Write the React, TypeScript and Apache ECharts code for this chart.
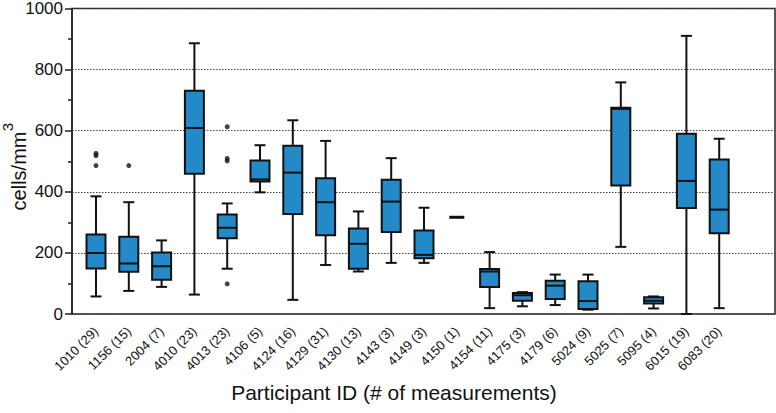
import React, { useEffect, useRef } from "react";
import * as echarts from "echarts";

const categories = [
  "1010 (29)", "1156 (15)", "2004 (7)", "4010 (23)", "4013 (23)",
  "4106 (5)", "4124 (16)", "4129 (31)", "4130 (13)", "4143 (3)",
  "4149 (3)", "4150 (1)", "4154 (11)", "4175 (3)", "4179 (6)",
  "5024 (9)", "5025 (7)", "5095 (4)", "6015 (19)", "6083 (20)",
];
const whiskerLow = [57, 75, 88, 63, 147, 395, 46, 159, 138, 166, 166, 314, 19, 25, 29, 14, 218, 18, 0, 19];
const quartile1 = [148, 137, 111, 455, 246, 430, 325, 256, 147, 266, 181, 314, 88, 43, 49, 16, 417, 34, 344, 262];
const medians = [198, 164, 155, 604, 280, 437, 459, 363, 228, 365, 192, 314, 138, 61, 92, 42, 666, 43, 432, 339];
const quartile3 = [258, 251, 200, 725, 323, 498, 546, 441, 278, 436, 271, 314, 146, 68, 108, 106, 670, 54, 585, 502];
const whiskerHigh = [382, 363, 239, 879, 359, 548, 629, 562, 333, 506, 345, 314, 201, 71, 128, 128, 752, 57, 903, 569];
const outlierIndex = [0, 0, 0, 1, 4, 4, 4, 4];
const outlierValue = [521, 514, 482, 482, 608, 505, 497, 98];

const FONT = "'Liberation Sans', Arial, Helvetica, sans-serif";
const BOX_FILL = "#2489c7";
const INK = "#111";

export default function App() {
  const ref = useRef<HTMLDivElement>(null);
  useEffect(() => {
    if (!ref.current) return;
    const chart = echarts.init(ref.current, undefined, { renderer: "svg" });
    const boxData = categories.map((_, i) => [
      i, whiskerLow[i], quartile1[i], medians[i], quartile3[i], whiskerHigh[i],
    ]);
    const outliers = outlierIndex.map((i, k) => [i, outlierValue[k]]);
    const option: any = {
      animation: false,
      backgroundColor: "#fff",
      textStyle: { fontFamily: FONT },
      grid: [
        { left: 72, right: 1, top: 6, bottom: 99, show: true, borderColor: "#222", borderWidth: 1.5, backgroundColor: "transparent" },
        { left: 79.6, width: 656, top: 6, bottom: 99 },
      ],
      xAxis: [
        { type: "value", gridIndex: 0, min: 0, max: 1, show: false },
        {
          type: "category",
          gridIndex: 1,
          data: categories,
          boundaryGap: true,
          axisLine: { show: false },
          axisTick: { show: false },
          axisLabel: { rotate: 45, fontSize: 13, color: INK, margin: 15, fontFamily: FONT, interval: 0 },
          splitLine: { show: false },
        },
      ],
      yAxis: [
        {
          type: "value",
          gridIndex: 0,
          min: 0,
          max: 1000,
          interval: 200,
          axisLine: { show: true, lineStyle: { color: "#222", width: 1.5 } },
          axisTick: { show: true, length: 7, lineStyle: { color: "#222", width: 1.5 } },
          minorTick: { show: true, splitNumber: 2, length: 4, lineStyle: { color: "#222", width: 1.5 } },
          axisLabel: {
            fontSize: 17, color: INK, margin: 9, fontFamily: FONT,
            formatter: (v: number) => String(v),
          },
          splitLine: { show: true, lineStyle: { color: "#444", type: [1.5, 1.5], width: 1 } },
        },
        { type: "value", gridIndex: 1, min: 0, max: 1000, show: false },
      ],
      graphic: [
        {
          type: "text",
          x: 394,
          y: 392,
          style: {
            text: "Participant ID (# of measurements)",
            fontSize: 21,
            fontFamily: FONT,
            fill: INK,
            align: "center",
            verticalAlign: "middle",
          },
        },
        {
          type: "text",
          x: 19,
          y: 171,
          rotation: Math.PI / 2,
          style: {
            text: "cells/mm",
            fontSize: 20,
            fontFamily: FONT,
            fill: INK,
            align: "center",
            verticalAlign: "middle",
          },
        },
        {
          type: "text",
          x: 7.5,
          y: 127,
          rotation: Math.PI / 2,
          style: {
            text: "3",
            fontSize: 15,
            fontFamily: FONT,
            fill: INK,
            align: "center",
            verticalAlign: "middle",
          },
        },
      ],
      series: [
        {
          type: "custom",
          xAxisIndex: 1,
          yAxisIndex: 1,
          data: boxData,
          encode: { x: 0, y: [1, 2, 3, 4, 5] },
          renderItem: (params: any, api: any) => {
            const xi = api.value(0);
            const pts = [1, 2, 3, 4, 5].map((d) => api.coord([xi, api.value(d)]));
            const cx = pts[0][0];
            const ys = pts.map((p: number[]) => p[1]);
            const bw = 19;
            const cw = 11;
            const ls = { stroke: INK, lineWidth: 2 };
            if (api.value(1) === api.value(5)) {
              return {
                type: "line",
                shape: { x1: cx - 7.5, y1: ys[2], x2: cx + 7.5, y2: ys[2] },
                style: { stroke: INK, lineWidth: 3 },
              };
            }
            return {
              type: "group",
              children: [
                { type: "line", shape: { x1: cx, y1: ys[0], x2: cx, y2: ys[1] }, style: ls },
                { type: "line", shape: { x1: cx, y1: ys[3], x2: cx, y2: ys[4] }, style: ls },
                { type: "line", shape: { x1: cx - cw / 2, y1: ys[0], x2: cx + cw / 2, y2: ys[0] }, style: ls },
                { type: "line", shape: { x1: cx - cw / 2, y1: ys[4], x2: cx + cw / 2, y2: ys[4] }, style: ls },
                {
                  type: "rect",
                  shape: { x: cx - bw / 2, y: ys[3], width: bw, height: ys[1] - ys[3] },
                  style: { fill: BOX_FILL, stroke: INK, lineWidth: 2 },
                },
                { type: "line", shape: { x1: cx - bw / 2, y1: ys[2], x2: cx + bw / 2, y2: ys[2] }, style: ls },
              ],
            };
          },
          z: 3,
        },
        {
          type: "scatter",
          xAxisIndex: 1,
          yAxisIndex: 1,
          data: outliers,
          symbol: "circle",
          symbolSize: 5,
          itemStyle: { color: INK },
          z: 4,
        },
      ],
    };
    chart.setOption(option);
    return () => chart.dispose();
  }, []);
  return (
    <div
      ref={ref}
      style={{ position: "fixed", left: 0, top: 0, width: 776, height: 413, background: "#fff" }}
    />
  );
}
